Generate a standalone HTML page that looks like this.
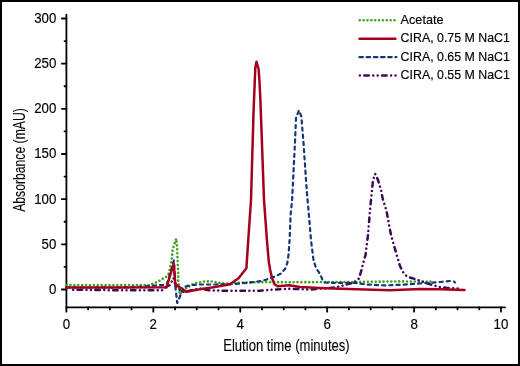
<!DOCTYPE html><html><head><meta charset="utf-8"><style>html,body{margin:0;padding:0;background:#fff;}svg{display:block;}text{font-family:"Liberation Sans",Arial,sans-serif;fill:#000;}</style></head><body>
<svg width="520" height="366" viewBox="0 0 520 366">
<rect x="0" y="0" width="520" height="366" fill="#fff"/>
<g stroke="#000" stroke-width="1.8" fill="none">
<path d="M66.4 14.6V307.45H505" stroke-linecap="round" stroke-linejoin="miter"/>
<line x1="61.9" y1="289.50" x2="66.4" y2="289.50" stroke-linecap="round"/>
<line x1="61.9" y1="244.34" x2="66.4" y2="244.34" stroke-linecap="round"/>
<line x1="61.9" y1="199.17" x2="66.4" y2="199.17" stroke-linecap="round"/>
<line x1="61.9" y1="154.00" x2="66.4" y2="154.00" stroke-linecap="round"/>
<line x1="61.9" y1="108.84" x2="66.4" y2="108.84" stroke-linecap="round"/>
<line x1="61.9" y1="63.68" x2="66.4" y2="63.68" stroke-linecap="round"/>
<line x1="61.9" y1="18.51" x2="66.4" y2="18.51" stroke-linecap="round"/>
<line x1="64.5" y1="266.92" x2="66.4" y2="266.92" stroke-linecap="round"/>
<line x1="64.5" y1="221.75" x2="66.4" y2="221.75" stroke-linecap="round"/>
<line x1="64.5" y1="176.59" x2="66.4" y2="176.59" stroke-linecap="round"/>
<line x1="64.5" y1="131.42" x2="66.4" y2="131.42" stroke-linecap="round"/>
<line x1="64.5" y1="86.26" x2="66.4" y2="86.26" stroke-linecap="round"/>
<line x1="64.5" y1="41.09" x2="66.4" y2="41.09" stroke-linecap="round"/>
<line x1="66.40" y1="307.45" x2="66.40" y2="311.7" stroke-linecap="round"/>
<line x1="153.32" y1="307.45" x2="153.32" y2="311.7" stroke-linecap="round"/>
<line x1="240.24" y1="307.45" x2="240.24" y2="311.7" stroke-linecap="round"/>
<line x1="327.16" y1="307.45" x2="327.16" y2="311.7" stroke-linecap="round"/>
<line x1="414.08" y1="307.45" x2="414.08" y2="311.7" stroke-linecap="round"/>
<line x1="501.00" y1="307.45" x2="501.00" y2="311.7" stroke-linecap="round"/>
<line x1="88.13" y1="307.45" x2="88.13" y2="309.4" stroke-linecap="round"/>
<line x1="109.86" y1="307.45" x2="109.86" y2="309.4" stroke-linecap="round"/>
<line x1="131.59" y1="307.45" x2="131.59" y2="309.4" stroke-linecap="round"/>
<line x1="175.05" y1="307.45" x2="175.05" y2="309.4" stroke-linecap="round"/>
<line x1="196.78" y1="307.45" x2="196.78" y2="309.4" stroke-linecap="round"/>
<line x1="218.51" y1="307.45" x2="218.51" y2="309.4" stroke-linecap="round"/>
<line x1="261.97" y1="307.45" x2="261.97" y2="309.4" stroke-linecap="round"/>
<line x1="283.70" y1="307.45" x2="283.70" y2="309.4" stroke-linecap="round"/>
<line x1="305.43" y1="307.45" x2="305.43" y2="309.4" stroke-linecap="round"/>
<line x1="348.89" y1="307.45" x2="348.89" y2="309.4" stroke-linecap="round"/>
<line x1="370.62" y1="307.45" x2="370.62" y2="309.4" stroke-linecap="round"/>
<line x1="392.35" y1="307.45" x2="392.35" y2="309.4" stroke-linecap="round"/>
<line x1="435.81" y1="307.45" x2="435.81" y2="309.4" stroke-linecap="round"/>
<line x1="457.54" y1="307.45" x2="457.54" y2="309.4" stroke-linecap="round"/>
<line x1="479.27" y1="307.45" x2="479.27" y2="309.4" stroke-linecap="round"/>
</g>
<g font-size="14" stroke="#000" stroke-width="0.16">
<text transform="translate(56.3,293.95) scale(0.95,1)" text-anchor="end">0</text>
<text transform="translate(56.3,248.78) scale(0.95,1)" text-anchor="end">50</text>
<text transform="translate(56.3,203.62) scale(0.95,1)" text-anchor="end">100</text>
<text transform="translate(56.3,158.45) scale(0.95,1)" text-anchor="end">150</text>
<text transform="translate(56.3,113.29) scale(0.95,1)" text-anchor="end">200</text>
<text transform="translate(56.3,68.13) scale(0.95,1)" text-anchor="end">250</text>
<text transform="translate(56.3,22.96) scale(0.95,1)" text-anchor="end">300</text>
<text transform="translate(66.40,328.8) scale(0.95,1)" text-anchor="middle">0</text>
<text transform="translate(153.32,328.8) scale(0.95,1)" text-anchor="middle">2</text>
<text transform="translate(240.24,328.8) scale(0.95,1)" text-anchor="middle">4</text>
<text transform="translate(327.16,328.8) scale(0.95,1)" text-anchor="middle">6</text>
<text transform="translate(414.08,328.8) scale(0.95,1)" text-anchor="middle">8</text>
<text transform="translate(501.00,328.8) scale(0.95,1)" text-anchor="middle">10</text>
</g>
<text x="223.2" y="350.6" font-size="16" stroke="#000" stroke-width="0.1" textLength="126.5" lengthAdjust="spacingAndGlyphs">Elution time (minutes)</text>
<text transform="translate(24.6,211.8) rotate(-90)" x="0" y="0" font-size="16" stroke="#000" stroke-width="0.1" textLength="103.6" lengthAdjust="spacingAndGlyphs">Absorbance (mAU)</text>
<polyline points="66.5,285.1 150,285 153,283.5 157,282 160,280.5 163,278.5 166,277 168.5,274 169.5,270.5 170.3,266.5 171.2,263 172,256 172.4,251.5 174,245 176.3,238.6 176.5,242 177,246 177.3,253 177.8,265 178.2,273 178.2,279.8 179,287.5 179.8,294.8 181,292.5 183,290 186,288.5 189,286.5 192,284.5 197,282.8 205,281.3 213,281.5 220,283 228,283.5 240,282.6 265,282.1 290,282.2 350,282 400,281.4 433,281.6" fill="none" stroke="#42a01c" stroke-width="2.6" stroke-linecap="round" stroke-linejoin="round" stroke-dasharray="0.01 3.9"/>
<polyline points="73.1,289.7 120,290.3 162,290.3 166,287 170,285 173.5,278 176,287 180,290 185,292.5 190,290.5 200,288.5 210,290.5 230,290.7 260,290.7 275,289.5 290,288.8 310,289.5 324,288.5 335,287.5 343,285.5 348,284 352,283 356,281 358.5,279 360,275 361.5,270 363,264 365.5,255 368,235 370,210 372,190 373,180 375.2,173.9 378,180 381,190 383,200 386.3,210 391,235 397.3,257 400,266 403,272 406,275.5 410,277.5 415,279 422,281.5 430,284.3 434,285.5 440,287 447,288 460,288.6" fill="none" stroke="#3e0a55" stroke-width="2.5" stroke-linecap="round" stroke-linejoin="round" stroke-dasharray="0.01 4.43 4.5 4.43 0.01 4.43"/>
<polyline points="66.5,287.4 120,287.4 140,286.8 155,285.5 163,285 167,284 173.9,260.5 175.2,285 177.2,303 180.2,296 183,287.5 190,285.2 200,284.5 215,284.5 235,284 256,281.8 262,281 268,279 275,276.5 281,273.5 285,269 287.3,263 288.5,255 289.6,240 290.6,215 292.1,200 295.1,140 296,118 298.9,110.4 301.5,117 302,125 303.3,140 306.7,190 308.9,215 311,240 313.5,260 316,268 320,274 323,281 324.5,282.5 330,282.8 340,282.8 355,283 367,284.5 385,285.4 405,284.6 420,283.4 440,282 450,281 454,281.5 455,282.5" fill="none" stroke="#153778" stroke-width="2.2" stroke-linecap="round" stroke-linejoin="round" stroke-dasharray="3.2 4"/>
<polyline points="66.5,287.4 120,287.4 166.5,287.3 173.8,263.5 175.3,284 186,291.8 200,289.3 215,287 230,284.3 238.5,278.3 246.4,268.2 248.2,241 251,200 253.6,110 255.3,68 256.5,61.8 258.6,69 259.4,80 260.4,100 264,200 267,241 268.8,262 270.2,270 272,278 274.5,284.3 277.5,286.2 289.5,285.2 300,287 320,288 340,288.8 390,290.3 420,289 440,289.3 464.5,290" fill="none" stroke="#a3001f" stroke-width="2.5" stroke-linecap="round" stroke-linejoin="round"/>
<line x1="359.75" y1="20.3" x2="396.5" y2="20.3" stroke="#42a01c" stroke-width="2.6" stroke-linecap="round" stroke-dasharray="0.01 3.85"/>
<line x1="359.5" y1="38.75" x2="395.5" y2="38.75" stroke="#a3001f" stroke-width="2.4" stroke-linecap="round"/>
<line x1="359.4" y1="57.1" x2="396.5" y2="57.1" stroke="#153778" stroke-width="2.2" stroke-linecap="round" stroke-dasharray="3.6 3.6"/>
<line x1="359.9" y1="75.5" x2="396.5" y2="75.5" stroke="#3e0a55" stroke-width="2.5" stroke-linecap="round" stroke-dasharray="0.01 4.43 4.5 4.43 0.01 4.43"/>
<g font-size="13" stroke="#000" stroke-width="0.16">
<text x="400.6" y="23.80" textLength="42.9" lengthAdjust="spacingAndGlyphs">Acetate</text>
<text x="400.6" y="42.23" textLength="109.3" lengthAdjust="spacingAndGlyphs">CIRA, 0.75 M NaC1</text>
<text x="400.6" y="60.66" textLength="109.3" lengthAdjust="spacingAndGlyphs">CIRA, 0.65 M NaC1</text>
<text x="400.6" y="79.09" textLength="109.3" lengthAdjust="spacingAndGlyphs">CIRA, 0.55 M NaC1</text>
</g>
<rect x="1" y="1" width="518" height="364" fill="none" stroke="#000" stroke-width="2"/>
</svg></body></html>
